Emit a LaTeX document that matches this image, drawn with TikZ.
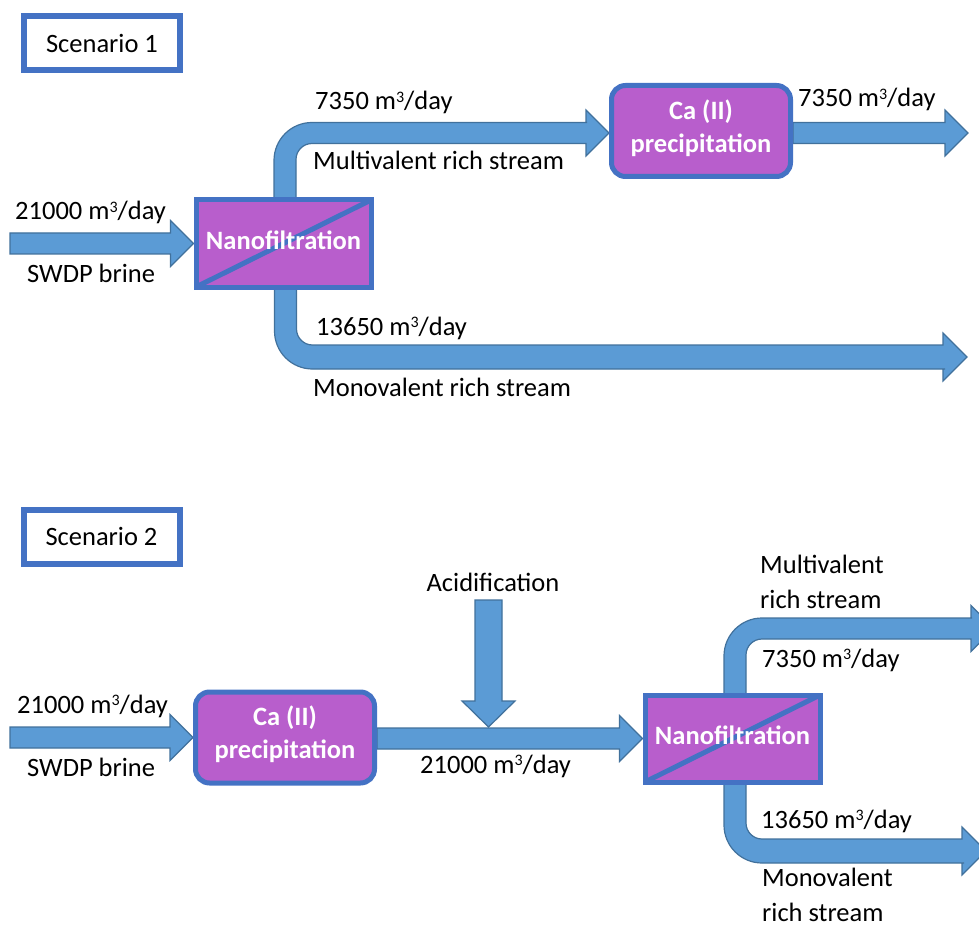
\documentclass[tikz,border=0pt]{standalone}
\usepackage{fontspec}
\setmainfont{Carlito}
\usepackage{tikz}
\usetikzlibrary{positioning, calc, backgrounds}

\definecolor{flujo}{HTML}{5B9BD5}
\definecolor{bordeflujo}{HTML}{41719C}
\definecolor{azul}{HTML}{4472C4}
\definecolor{morado}{HTML}{B85ECC}

% Caudal en m3/dia
\newcommand{\caudal}[1]{#1 m\raisebox{0.62ex}{\fontsize{16}{16}\selectfont 3}/day}
% Texto algo mas alto dentro de las cajas
\newcommand{\subir}[1]{\raisebox{3pt}[\height][\depth]{#1}}

% Flecha recta horizontal: inicio, punta
\newcommand{\flechaH}[2]{%
  \draw[flecha] let \p1=#1, \p2=#2 in
    (\x1,\y2+10.5pt) -- (\x2-23pt,\y2+10.5pt) -- (\x2-23pt,\y2+23pt) -- (\x2,\y2)
    -- (\x2-23pt,\y2-23pt) -- (\x2-23pt,\y2-10.5pt) -- (\x1,\y2-10.5pt) -- cycle;}
% Flecha con codo hacia arriba: centro del tramo vertical, punta
\newcommand{\codoArriba}[2]{%
  \draw[flecha] let \p1=#1, \p2=#2 in
    (\x1-11pt,\y1) [rounded corners=38pt] -- (\x1-11pt,\y2+10.5pt) -- (\x2-60pt,\y2+10.5pt)
    [sharp corners] -- (\x2-23pt,\y2+10.5pt) -- (\x2-23pt,\y2+23pt) -- (\x2,\y2)
    -- (\x2-23pt,\y2-23pt) -- (\x2-23pt,\y2-10.5pt) -- (\x2-60pt,\y2-10.5pt)
    [rounded corners=16pt] -- (\x1+11pt,\y2-10.5pt) -- (\x1+11pt,\y1) [sharp corners] -- cycle;}
% Flecha con codo hacia abajo: centro del tramo vertical, punta
\newcommand{\codoAbajo}[2]{%
  \draw[flecha] let \p1=#1, \p2=#2 in
    (\x1-11pt,\y1) [rounded corners=38pt] -- (\x1-11pt,\y2-12pt) -- (\x2-60pt,\y2-12pt)
    [sharp corners] -- (\x2-24pt,\y2-12pt) -- (\x2-24pt,\y2-24pt) -- (\x2,\y2)
    -- (\x2-24pt,\y2+24pt) -- (\x2-24pt,\y2+12pt) -- (\x2-60pt,\y2+12pt)
    [rounded corners=16pt] -- (\x1+11pt,\y2+12pt) -- (\x1+11pt,\y1) [sharp corners] -- cycle;}

\begin{document}
\begin{tikzpicture}[x=1pt, y=-1pt,
    font=\fontsize{26.5}{34.5}\selectfont,
    flecha/.style={fill=flujo, draw=bordeflujo, line width=1.2pt, line join=miter},
    escenario/.style={draw=azul, line width=6pt, fill=white, minimum width=156pt, minimum height=54pt, inner sep=0pt},
    proceso/.style={draw=azul, line width=5pt, fill=morado, text=white, align=center, inner sep=0pt,
        font=\fontsize{26.5}{33}\selectfont\bfseries},
    nanofiltro/.style={proceso, minimum width=175pt, minimum height=87pt,
        path picture={\draw[azul, line width=5pt] (path picture bounding box.south west) -- (path picture bounding box.north east);}},
    precipitador/.style={proceso, rounded corners=14pt, minimum width=179pt, minimum height=91pt},
    etiqueta/.style={anchor=base west, inner sep=0pt, align=left}]

    \path[use as bounding box] (0,0) rectangle (979,925);

    % --- ESCENARIO 1 ---
    \node[escenario] (esc1) at (102,43) {Scenario 1};
    \node[nanofiltro] (nf1) at (283.5,243.5) {\subir{Nanofiltration}};
    \node[precipitador] (ca1) at (701,131) {\subir{Ca (II)}\\\subir{precipitation}};

    \node[etiqueta] (q1in) at (15,220) {\caudal{21000}};
    \node[etiqueta] (brine1) at (27,283) {SWDP brine};
    \node[etiqueta] (q1mul) at (315,110) {\caudal{7350}};
    \node[etiqueta] (mul1) at (313,170) {Multivalent rich stream};
    \node[etiqueta] (q1out) at (798,107) {\caudal{7350}};
    \node[etiqueta] (q1mon) at (316,335) {\caudal{13650}};
    \node[etiqueta] (mon1) at (313,396) {Monovalent rich stream};

    % --- ESCENARIO 2 ---
    \node[escenario] (esc2) at (101.5,536.5) {Scenario 2};
    \node[precipitador] (ca2) at (285,737.5) {\subir{Ca (II)}\\\subir{precipitation}};
    \node[nanofiltro] (nf2) at (732.5,738.5) {\subir{Nanofiltration}};

    \node[etiqueta] (q2in) at (17,713) {\caudal{21000}};
    \node[etiqueta] (brine2) at (27,776) {SWDP brine};
    \node[anchor=base, inner sep=0pt] (acid) at (493,591) {Acidification};
    \node[etiqueta] (q2mid) at (420,773) {\caudal{21000}};
    \node[etiqueta] (mul2) at (760,608) {Multivalent\\rich stream};
    \node[etiqueta] (q2mul) at (762,667) {\caudal{7350}};
    \node[etiqueta] (q2mon) at (761,828) {\caudal{13650}};
    \node[etiqueta] (mon2) at (762,921) {Monovalent\\rich stream};

    % Flechas de flujo (debajo de las cajas)
    \begin{scope}[on background layer]
        \fill[white] (0,0) rectangle (979,925);
        % escenario 1
        \flechaH{(10,243)}{(nf1.west)}
        \codoArriba{([xshift=1.5pt]nf1.center)}{([yshift=-2pt]ca1.west)}
        \flechaH{(ca1.east)}{(968,133)}
        \codoAbajo{([xshift=2pt]nf1.center)}{(967,357)}
        % escenario 2
        \flechaH{(10,737)}{(ca2.west)}
        \flechaH{(ca2.east)}{(nf2.west)}
        \draw[flecha] (475,600) -- (475,701) -- (462,701) -- (488.5,727) -- (515,701) -- (502,701) -- (502,600) -- cycle; % acidificación
        \codoArriba{([xshift=2.5pt]nf2.center)}{(994,628.5)}
        \codoAbajo{([xshift=2.5pt]nf2.center)}{(986,851)}
    \end{scope}

\end{tikzpicture}
\end{document}
